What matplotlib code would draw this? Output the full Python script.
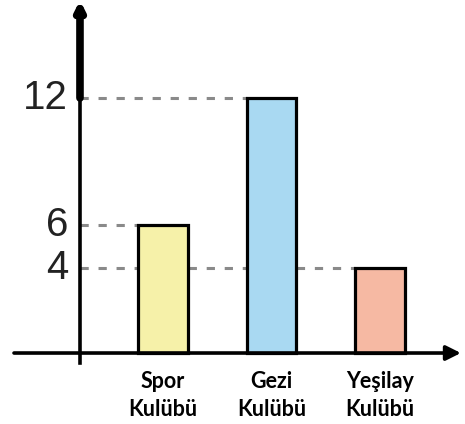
import matplotlib
matplotlib.use("Agg")
import matplotlib.pyplot as plt

clubs = ["Spor\nKulübü", "Gezi\nKulübü", "Yeşilay\nKulübü"]
members = [6, 12, 4]
colors = ["#F6F1A9", "#A9D9F2", "#F6B9A3"]
ticks = [4, 6, 12]

fig = plt.figure(figsize=(4.65, 4.24), dpi=100)
ax = fig.add_axes([0, 0, 1, 1])
ax.set_xlim(-1.502, 2.783)
ax.set_ylim(-3.34, 16.61)
ax.axis("off")

x = list(range(len(clubs)))
ax.bar(x, members, width=0.46, color=colors, edgecolor="black",
       linewidth=2.3, zorder=3)

yax = -0.765
# dashed guide lines from the y axis to the bar of each value
for xi, v in zip(x, members):
    ax.plot([yax, xi - 0.23], [v, v], color="#8a8a8a", lw=2.2,
            dashes=(2.7, 3.2), zorder=1)

# axes drawn by hand with arrows
ax.plot([yax, yax], [-0.45, 12], color="black", lw=2.6, zorder=4)
ax.annotate("", xy=(yax, 16.6), xytext=(yax, 12),
            arrowprops=dict(arrowstyle="-|>", color="black", lw=5.5,
                            mutation_scale=12, shrinkA=0, shrinkB=0), zorder=4)
ax.annotate("", xy=(2.745, 0), xytext=(-1.373, 0),
            arrowprops=dict(arrowstyle="-|>", color="black", lw=2.6,
                            mutation_scale=22, shrinkA=0, shrinkB=0), zorder=4)

for t in ticks:
    ax.text(-0.875, t, str(t), ha="right", va="center", fontsize=29,
            family="Liberation Sans", color="#222222")

for xi, name in zip(x, clubs):
    ax.text(xi, -2.0, name, ha="center", va="center", fontsize=15.5,
            fontweight="bold", family="Lato", linespacing=1.45)

fig.savefig("out.png", dpi=100)
